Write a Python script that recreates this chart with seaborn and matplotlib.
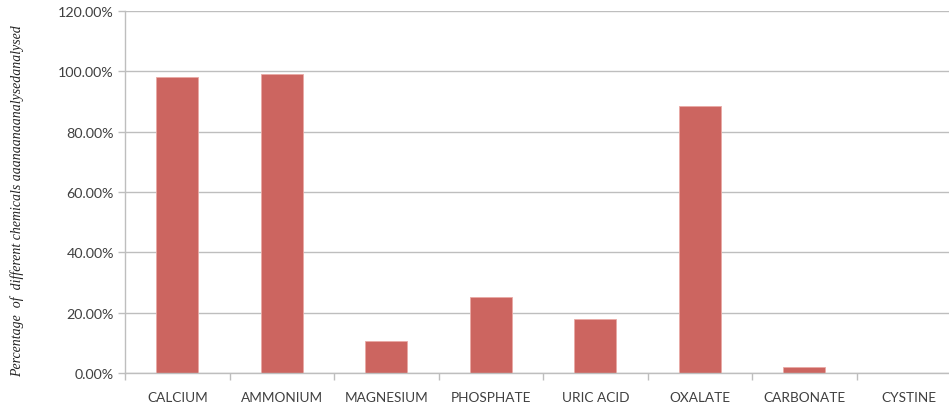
import matplotlib
matplotlib.use("Agg")
import matplotlib.pyplot as plt
import seaborn as sns
import pandas as pd
from matplotlib.ticker import FuncFormatter

# Share of analysed stones containing each chemical (%)
categories = ["CALCIUM", "AMMONIUM", "MAGNESIUM", "PHOSPHATE", "URIC ACID",
              "OXALATE", "CARBONATE", "CYSTINE"]
percentages = [98.0, 99.0, 10.5, 25.2, 17.8, 88.4, 1.9, 0.0]
y_ticks = [0, 20, 40, 60, 80, 100, 120]

df = pd.DataFrame({"chemical": categories, "percent": percentages})

sns.set_theme(style="white")
plt.rcParams["font.family"] = ["Lato", "DejaVu Sans"]

W, H = 949, 406
fig = plt.figure(figsize=(W / 100, H / 100), dpi=100)
# category slot width ~104.5 px; plot area runs past the right edge
ax = fig.add_axes([125 / W, 1 - 374 / H, 8 * 104.5 / W, (374 - 12) / H])

sns.barplot(data=df, x="chemical", y="percent", color="#CC6560",
            width=0.4, edgecolor="#E9A9A5", linewidth=0.6, ax=ax,
            saturation=1)

ax.set_xlim(-0.5, 7.5)
ax.set_ylim(0, 120)
ax.set_yticks(y_ticks)
ax.yaxis.set_major_formatter(FuncFormatter(lambda v, p: f"{v:.2f}%"))
ax.grid(axis="y", color="#BEBEBE", linewidth=1.0)
ax.set_axisbelow(True)

for s in ["top", "right"]:
    ax.spines[s].set_visible(False)
for s in ["left", "bottom"]:
    ax.spines[s].set_color("#BEBEBE")
    ax.spines[s].set_linewidth(1.0)

# category boundary ticks on the x axis
ax.set_xticks([i for i in range(8)])
ax.set_xticks([i - 0.5 for i in range(8)], minor=True)
ax.tick_params(axis="x", which="major", length=0, pad=13,
               labelsize=9.8, labelcolor="#404040")
ax.tick_params(axis="x", which="minor", bottom=True, length=5,
               color="#BEBEBE", width=1)
ax.tick_params(axis="y", left=True, length=5, color="#BEBEBE", width=1,
               labelsize=10.3, labelcolor="#404040", pad=3)

ax.set_xlabel("")
ax.set_ylabel("Percentage  of  different chemicals aaanaanaanalysedanalysed",
              family="Liberation Serif", style="italic", fontsize=10,
              color="#222222")
ax.yaxis.set_label_coords(-0.121, 0.478)

fig.savefig("out.png", dpi=100)
